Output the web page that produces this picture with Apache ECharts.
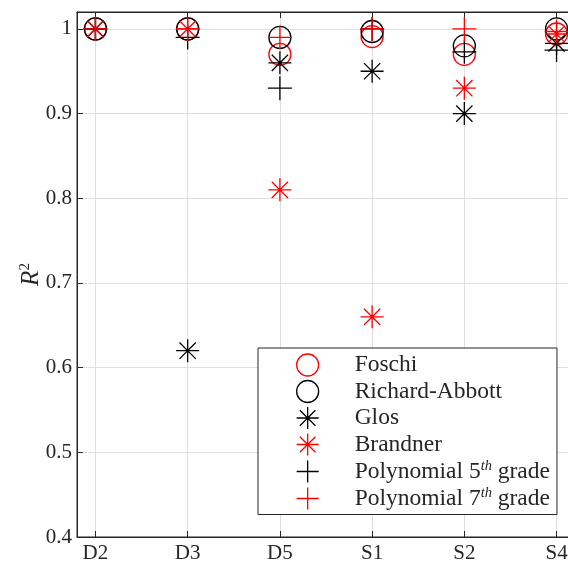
<!DOCTYPE html>
<html>
<head>
<meta charset="utf-8">
<script src="https://cdn.jsdelivr.net/npm/echarts@6/dist/echarts.min.js"></script>
<style>
html,body{margin:0;padding:0;background:#fff;}
#chart{width:568px;height:561px;}
</style>
</head>
<body>
<div id="chart"></div>
<script>
// ---- data ----
var categories = ['D2', 'D3', 'D5', 'S1', 'S2', 'S4'];
var foschi        = [1.000, 1.000, 0.970, 0.991, 0.970, 0.994];
var richardAbbott = [1.000, 1.000, 0.990, 0.997, 0.980, 1.000];
var glos          = [1.000, 0.620, 0.960, 0.950, 0.900, 0.983];
var brandner      = [1.000, 1.000, 0.810, 0.660, 0.930, 0.994];
var poly5         = [1.000, 0.990, 0.930, 1.000, 0.973, 0.975];
var poly7         = [1.000, 1.000, 0.990, 1.000, 1.000, 0.997];
var yTicks = [0.4, 0.5, 0.6, 0.7, 0.8, 0.9, 1];

var FONT = 'Liberation Serif';
var TXT = '#262626';
var RED = '#ff0000';
var BLK = '#000000';
var PLUS = 'path://M0,10L20,10M10,0L10,20';
var STAR = 'path://M0,10L20,10M10,0L10,20M2.93,2.93L17.07,17.07M2.93,17.07L17.07,2.93';

function pts(arr) { return arr.map(function (v, i) { return [i, v]; }); }

function mk(name, data, symbol, size, color) {
  return {
    name: name, type: 'scatter', data: pts(data),
    symbol: symbol, symbolSize: size, symbolKeepAspect: true,
    itemStyle: { color: 'transparent', borderColor: color, borderWidth: 1.3, opacity: 1 },
    emphasis: { disabled: true },
    z: 3
  };
}

var series = [
  mk('Foschi', foschi, 'circle', 22, RED),
  mk('Richard-Abbott', richardAbbott, 'circle', 22, BLK),
  mk('Glos', glos, STAR, 23, BLK),
  mk('Brandner', brandner, STAR, 23, RED),
  mk('Polynomial 5th grade', poly5, PLUS, 24, BLK),
  mk('Polynomial 7th grade', poly7, PLUS, 24, RED)
];

var legendData = series.map(function (s) {
  return { name: s.name, icon: s.symbol,
    itemStyle: { color: 'transparent', borderColor: s.itemStyle.borderColor, borderWidth: 1.3 } };
});

function xLabel(v) {
  var r = Math.round(v);
  return Math.abs(v - r) < 1e-6 && r >= 0 && r < categories.length ? categories[r] : '';
}
function yLabel(v) {
  for (var i = 0; i < yTicks.length; i++) if (Math.abs(v - yTicks[i]) < 1e-6) return String(yTicks[i]);
  return '';
}

var chart = echarts.init(document.getElementById('chart'), null, { renderer: 'canvas' });
chart.setOption({
  animation: false,
  backgroundColor: '#fff',
  textStyle: { fontFamily: FONT },
  grid: { left: 77, top: 12, width: 498, bottom: 24, show: true, borderColor: TXT, borderWidth: 1, backgroundColor: 'transparent', containLabel: false, outerBoundsMode: 'none' },
  xAxis: [{
    type: 'value', min: -0.2, max: 5.2, minInterval: 1, maxInterval: 1,
    axisLine: { show: true, onZero: false, lineStyle: { color: TXT, width: 1 } },
    axisTick: { show: true, inside: true, length: 6, lineStyle: { color: TXT } },
    axisLabel: { formatter: xLabel, color: TXT, fontSize: 21, fontFamily: FONT, margin: 6, showMinLabel: true, showMaxLabel: true, hideOverlap: false },
    splitLine: { show: true, showMinLine: false, showMaxLine: false, lineStyle: { color: '#dfdfdf', width: 1 } }
  }, {
    type: 'value', position: 'top', min: -0.2, max: 5.2, minInterval: 1, maxInterval: 1,
    axisLine: { show: true, onZero: false, lineStyle: { color: TXT, width: 1 } },
    axisTick: { show: true, inside: true, length: 6, lineStyle: { color: TXT } },
    axisLabel: { show: false },
    splitLine: { show: false }
  }],
  yAxis: {
    type: 'value', min: 0.4, max: 1.02, interval: 0.1,
    axisLine: { show: true, onZero: false, lineStyle: { color: TXT, width: 1 } },
    axisTick: { show: true, inside: true, length: 6, lineStyle: { color: TXT } },
    axisLabel: { formatter: yLabel, color: TXT, fontSize: 21, fontFamily: FONT, margin: 5 },
    splitLine: { show: true, showMinLine: false, showMaxLine: false, lineStyle: { color: '#dfdfdf', width: 1 } },
    name: '{r|R}{s|2}', nameLocation: 'middle', nameGap: 33, nameRotate: 90, nameMoveOverlap: false,
    nameTextStyle: {
      color: TXT, fontFamily: FONT,
      rich: {
        r: { fontSize: 25, fontStyle: 'italic', fontFamily: FONT, color: TXT },
        s: { fontSize: 15, fontFamily: FONT, color: TXT, padding: [0, 0, 11, 0] }
      }
    }
  },
  legend: {
    orient: 'vertical', left: 258, top: 348,
    padding: [5, 7, 4, 38],
    itemWidth: 84, itemHeight: 22, itemGap: 2.5,
    backgroundColor: '#fff', borderColor: TXT, borderWidth: 1,
    selectedMode: false,
    data: legendData,
    formatter: function (name) {
      return name.replace(/(\d)th/, '$1{s|th}');
    },
    textStyle: {
      color: TXT, fontSize: 23.5, fontFamily: FONT, lineHeight: 22,
      rich: {
        s: { fontSize: 14.5, fontStyle: 'italic', fontFamily: FONT, color: TXT, padding: [0, 0, 10, 0] }
      }
    }
  },
  series: series
});
</script>
</body>
</html>
